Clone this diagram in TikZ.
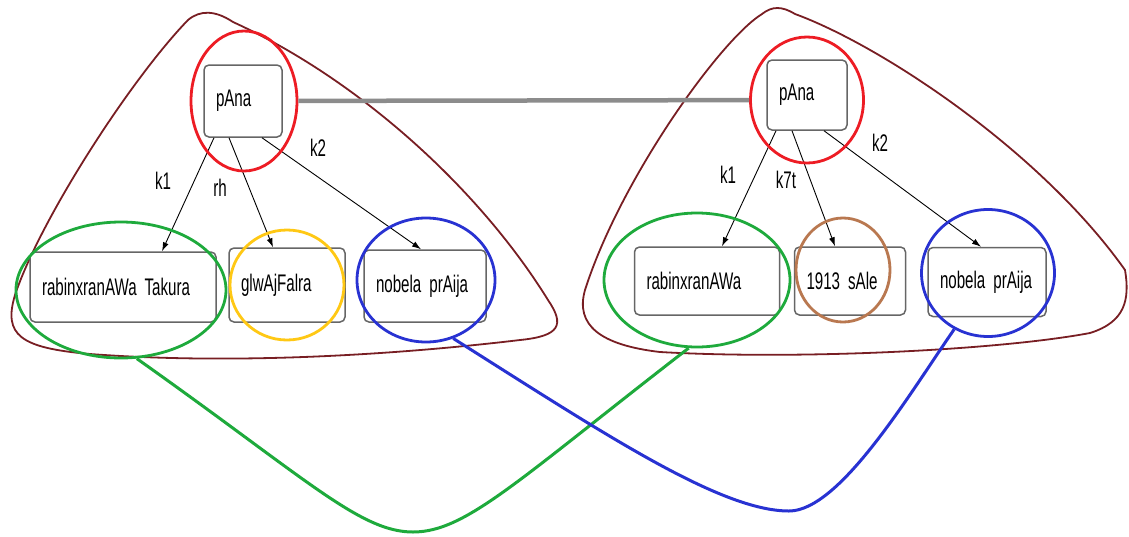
\documentclass[tikz,border=0pt]{standalone}
\usepackage{fontspec}
\newfontfamily\sempit[FakeStretch=0.63]{Liberation Sans}
\usetikzlibrary{shapes.geometric,arrows.meta}
\definecolor{merah}{RGB}{237,28,36}
\definecolor{hijau}{RGB}{30,170,60}
\definecolor{kuning}{RGB}{255,200,20}
\definecolor{biru}{RGB}{40,50,210}
\definecolor{coklat}{RGB}{185,120,80}
\definecolor{marun}{RGB}{120,30,35}
\protected\def\hurufkotak{\sempit\fontsize{24}{26}\selectfont
  \spaceskip=4.5pt plus 1pt\relax}

\begin{document}
\begin{tikzpicture}[x=1pt,y=-1pt,
    kotak/.style={draw=black!60,line width=1.5pt,rounded corners=5pt,fill=white,
      align=left,inner xsep=12pt,inner ysep=0pt,font=\hurufkotak},
    lingkar/.style={ellipse,draw,line width=2.8pt,inner sep=0pt},
    lbl/.style={font=\hurufkotak,inner sep=0pt},
    pn/.style={-{Latex[length=9pt,width=6pt]},line width=0.9pt},
    awan/.style={draw=marun,line width=1.8pt},
    sambung/.style={line width=3pt}]
  \useasboundingbox (0,0) rectangle (1129,536);

  % Kelompok kiri
  \draw[awan] (233,22) .. controls (215,10) and (200,10) .. (188,20)
    .. controls (130,80) and (40,220) .. (15,295)
    .. controls (3,335) and (20,348) .. (90,354)
    .. controls (250,366) and (420,352) .. (520,340)
    .. controls (560,336) and (565,325) .. (548,300)
    .. controls (480,190) and (360,80) .. cycle;

  % Kelompok kanan
  \draw[awan] (795,14) .. controls (782,6) and (772,6) .. (762,14)
    .. controls (720,40) and (620,180) .. (585,290)
    .. controls (575,325) and (600,345) .. (660,352)
    .. controls (800,360) and (1000,350) .. (1090,333)
    .. controls (1125,322) and (1130,300) .. (1125,270)
    .. controls (1040,150) and (880,45) .. cycle;

  % Kotak kiri
  \node[kotak,text width=54pt,minimum height=72pt] (lroot) at (243,101) {pAna};
  \node[kotak,text width=162pt,minimum height=70pt] (lrab) at (123,287)
    {rabinxranAWa Takura};
  \node[kotak,text width=92pt,minimum height=74pt] (lglw) at (287,285)
    {glwAjFalra};
  \node[kotak,text width=98pt,minimum height=72pt] (lnob) at (425,286)
    {nobela prAija};

  % Kotak kanan
  \node[kotak,text width=56pt,minimum height=70pt] (rroot) at (807,95) {pAna};
  \node[kotak,text width=121pt,minimum height=68pt] (rrab) at (707,281)
    {rabinxranAWa};
  \node[kotak,text width=87pt,minimum height=68pt] (ryear) at (850,281)
    {1913 sAle};
  \node[kotak,text width=94pt,minimum height=69pt] (rnob) at (987,282)
    {nobela prAija};

  % Panah
  \draw[pn] ([xshift=-29pt]lroot.south) -- ([xshift=39pt]lrab.north);
  \draw[pn] ([xshift=-14pt]lroot.south) -- ([xshift=-14pt]lglw.north);
  \draw[pn] ([xshift=19pt]lroot.south) -- ([xshift=-4pt]lnob.north);
  \draw[pn] ([xshift=-31pt]rroot.south) -- ([xshift=15pt]rrab.north);
  \draw[pn] ([xshift=-15pt]rroot.south) -- ([xshift=-15pt]ryear.north);
  \draw[pn] ([xshift=17pt]rroot.south) -- ([xshift=-6pt]rnob.north);

  \node[lbl] (lk1) at (163,181) {k1};
  \node[lbl] (lrh) at (220,188) {rh};
  \node[lbl] (lk2) at (318,148) {k2};
  \node[lbl] (rk1) at (728,175) {k1};
  \node[lbl] (rk7t) at (786,180) {k7t};
  \node[lbl] (rk2) at (880,143) {k2};

  % Lingkaran
  \node[lingkar,draw=merah,minimum width=106pt,minimum height=140pt] (lred)
    at (244,101) {};
  \node[lingkar,draw=hijau,minimum width=210pt,minimum height=136pt] (lgreen)
    at (121,290) {};
  \node[lingkar,draw=kuning,minimum width=114pt,minimum height=110pt] (lyellow)
    at (287,285) {};
  \node[lingkar,draw=biru,minimum width=138pt,minimum height=124pt] (lblue)
    at (426,280) {};
  \node[lingkar,draw=merah,minimum width=113pt,minimum height=126pt] (rred)
    at (807,100) {};
  \node[lingkar,draw=hijau,minimum width=186pt,minimum height=134pt] (rgreen)
    at (697,280) {};
  \node[lingkar,draw=coklat,minimum width=94pt,minimum height=104pt] (rbrown)
    at (843,270) {};
  \node[lingkar,draw=biru,minimum width=133pt,minimum height=127pt] (rblue)
    at (988,273) {};

  % Penghubung
  \draw[sambung,line width=4.5pt,draw=black!45] (lred) -- (rred);
  \coordinate (gdip) at (413,532);
  \coordinate (bdip) at (789,511);
  \draw[sambung,draw=hijau] (lgreen.-77) .. controls (307,479) and (360,532) .. (gdip)
    .. controls (466,532) and (518,480) .. (rgreen.-97);
  \draw[sambung,draw=biru] (lblue.-65) .. controls (603,433) and (720,511) .. (bdip)
    .. controls (840,511) and (910,393) .. (rblue.-121);
\end{tikzpicture}
\end{document}
